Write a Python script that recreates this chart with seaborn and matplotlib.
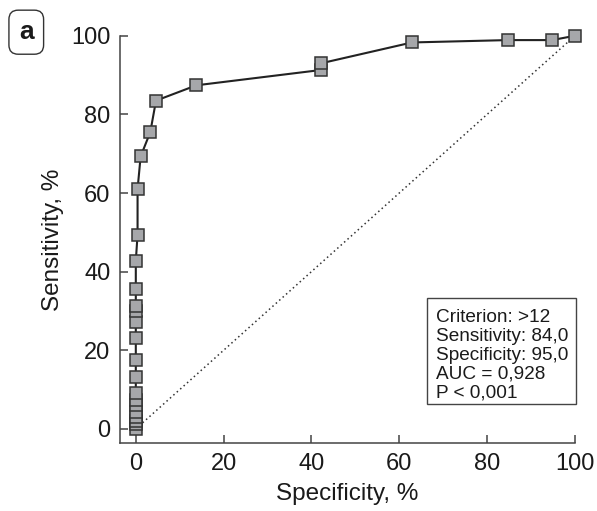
import matplotlib
matplotlib.use("Agg")
import matplotlib.pyplot as plt
import seaborn as sns
from matplotlib.patches import Rectangle

# ROC curve points (x axis labelled "Specificity, %", y = sensitivity)
specificity = [0, 0, 0, 0, 0, 0, 0, 0, 0, 0, 0, 0, 0, 0, 0, 0, 0.4, 0.4,
               1.1, 3.3, 4.6, 13.8, 42.2, 42.2, 62.9, 84.7, 94.8, 100]
sensitivity = [0, 1.2, 2.1, 3.1, 4.4, 6.1, 7.4, 9.2, 13.1, 17.6, 23.1, 27.3,
               30.0, 31.3, 35.5, 42.7, 49.4, 61.0, 69.3, 75.5, 83.5, 87.4,
               91.3, 93.0, 98.3, 98.9, 98.9, 100]
chance_x = [0, 100]
chance_y = [0, 100]
ticks = [0, 20, 40, 60, 80, 100]
stats_text = "Criterion: >12\nSensitivity: 84,0\nSpecificity: 95,0\nAUC = 0,928\nP < 0,001"

sns.set_style("ticks")
plt.rcParams["font.family"] = ["Liberation Sans", "DejaVu Sans"]

fig = plt.figure(figsize=(5.97, 5.11), dpi=100)
ax = fig.add_axes([0.201, 0.133, 0.762, 0.797])

sns.lineplot(x=chance_x, y=chance_y, ax=ax, color="#333333",
             linestyle=(0, (1, 2)), linewidth=1.1, zorder=1)
sns.lineplot(x=specificity, y=sensitivity, ax=ax, estimator=None, sort=False,
             color="#222222", linewidth=1.5, marker="s", markersize=8,
             markerfacecolor="#a6a7aa", markeredgecolor="#333333",
             markeredgewidth=1.1, zorder=3, clip_on=False)

ax.set_xlim(-3.6, 100)
ax.set_ylim(-3.6, 100)
ax.set_xticks(ticks)
ax.set_yticks(ticks)
ax.tick_params(direction="in", length=6, width=1.1, color="#444444",
               labelsize=17, pad=7, labelcolor="#1a1a1a")
for side in ["left", "bottom"]:
    ax.spines[side].set_color("#444444")
    ax.spines[side].set_linewidth(1.1)
sns.despine(ax=ax)

ax.set_xlabel("Specificity, %", fontsize=17.5, labelpad=6, color="#1a1a1a")
ax.set_ylabel("Sensitivity, %", fontsize=17.5, labelpad=5, color="#1a1a1a")

# statistics box
ax.add_patch(Rectangle((66.3, 6.4), 34.0, 26.9, facecolor="white",
                       edgecolor="#444444", linewidth=1.0, zorder=4,
                       clip_on=False))
ax.text(68.3, 30.6, stats_text, fontsize=13.7, linespacing=1.16,
        va="top", ha="left", color="#1a1a1a", zorder=5)

fig.text(0.044, 0.937, "a", fontsize=19, fontweight="bold", ha="center",
         va="center", color="#1a1a1a",
         bbox=dict(boxstyle="round,pad=0.38,rounding_size=0.35",
                   facecolor="white", edgecolor="#333333", linewidth=1.0))

fig.savefig("out.png", dpi=100)
